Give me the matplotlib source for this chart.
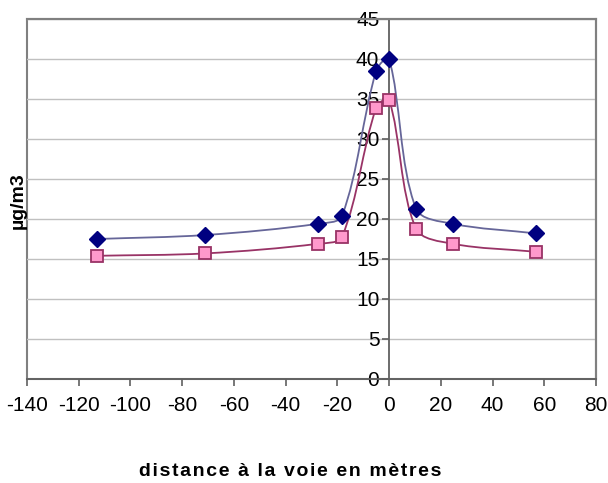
import numpy as np
import matplotlib.pyplot as plt
from matplotlib.path import Path
from matplotlib.patches import PathPatch

plt.rcParams['font.family'] = ['Liberation Sans', 'DejaVu Sans']
plt.rcParams['axes.unicode_minus'] = False

distance = [-113, -71, -27.5, -18.2, -5, 0, 10.4, 24.7, 56.8]
serie_haute = [17.5, 18.0, 19.4, 20.4, 38.5, 40.0, 21.3, 19.4, 18.2]
serie_basse = [15.4, 15.7, 16.9, 17.8, 33.9, 34.9, 18.8, 16.9, 15.9]


# courbe lissee (Bezier, tangentes ponderees par la longueur des segments)
def courbe_lissee(x, y, sx=2.586, sy=8.0):
    p = np.column_stack([x, y]).astype(float)
    q = p * [sx, sy]
    n = len(p)
    d = np.hypot(*np.diff(q, axis=0).T)
    verts = [p[0]]
    codes = [Path.MOVETO]
    for i in range(n - 1):
        if i > 0:
            c1 = p[i] + (p[i + 1] - p[i - 1]) * d[i] / (3 * (d[i - 1] + d[i]))
        else:
            c1 = p[i] + (p[i + 1] - p[i]) / 3
        if i + 2 < n:
            c2 = p[i + 1] - (p[i + 2] - p[i]) * d[i] / (3 * (d[i] + d[i + 1]))
        else:
            c2 = p[i + 1] - (p[i + 1] - p[i]) / 3
        verts += [c1, c2, p[i + 1]]
        codes += [Path.CURVE4] * 3
    return Path(verts, codes)


fig = plt.figure(figsize=(6.08, 4.83), dpi=100)
ax = fig.add_axes([27 / 608, 1 - 379 / 483, 569 / 608, 360 / 483])

ax.set_xlim(-140, 80)
ax.set_ylim(0, 45)
ax.set_xticks(range(-140, 81, 20))
ax.set_yticks(range(0, 46, 5))
ax.yaxis.grid(True, color='#c0c0c0', lw=1)
ax.set_axisbelow(True)

ax.add_patch(PathPatch(courbe_lissee(distance, serie_haute), fill=False, ec='#666699', lw=1.3, zorder=3))
ax.add_patch(PathPatch(courbe_lissee(distance, serie_basse), fill=False, ec='#993366', lw=1.3, zorder=3))
ax.plot(distance, serie_haute, ls='none', marker='D', ms=8, color='#000080', zorder=4)
ax.plot(distance, serie_basse, ls='none', marker='s', ms=8, mfc='#ff99cc', mec='#993366', mew=1.3, zorder=4)

ax.patch.set_edgecolor('#808080')
ax.patch.set_linewidth(1.5)
for s in ['top', 'right']:
    ax.spines[s].set_color('#808080')
    ax.spines[s].set_linewidth(1.5)
ax.spines['left'].set_position(('data', 0))
ax.spines['left'].set_color('#606060')
ax.spines['bottom'].set_color('#606060')
ax.spines['left'].set_linewidth(1.3)
ax.spines['bottom'].set_linewidth(1.3)
ax.tick_params(axis='both', direction='out', length=5, color='#606060', labelsize=15, width=1.2)
ax.tick_params(axis='x', pad=7)
ax.tick_params(axis='y', pad=2)

titre_x = '\u200a'.join('distance à la voie en mètres')
fig.text(18 / 608, 1 - 201 / 483, 'µg/m3', rotation=90, fontsize=14, fontweight='bold', ha='center', va='center')
fig.text(290 / 608, 1 - 472 / 483, titre_x, fontsize=14, fontweight='bold', ha='center', va='center',
         family=['Liberation Sans', 'DejaVu Sans'])

fig.savefig('out.png', dpi=100)
